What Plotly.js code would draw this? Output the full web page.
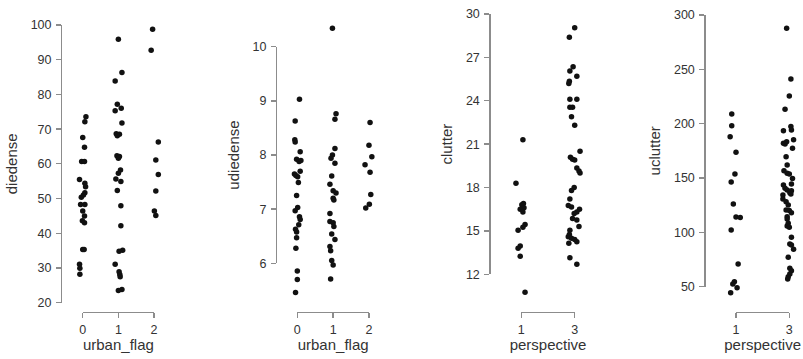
<!DOCTYPE html>
<html>
<head>
<meta charset="utf-8">
<script src="https://cdn.plot.ly/plotly-3.0.1.min.js"></script>
<style>html,body{margin:0;padding:0;background:#fff;}#chart{width:803px;height:359px;}</style>
</head>
<body>
<div id="chart"></div>
<script>
// ---------- DATA ----------
const urbanFlagLabels = ['0', '1', '2'];
const perspectiveLabels = ['1', '3'];

const diedense_0 = [73.6,72.1,67.6,64.8,60.7,60.7,55.5,54.4,53.4,51.7,51.0,50.4,48.3,48.3,46.4,45.0,43.6,43.0,35.3,35.3,31.1,29.9,28.2];
const diedenseJitter_0 = [0.09,0.06,0,0.05,-0.03,0.05,-0.09,0.06,0.08,0.06,0.02,-0.04,-0.06,0.06,0,0.05,-0.01,0.05,0,0.04,-0.09,-0.08,-0.08];
const diedense_1 = [95.9,86.3,83.9,77.2,76.0,75.3,71.8,68.7,68.5,68.1,62.3,62.1,61.6,58.2,57.3,55.6,54.9,52.3,47.9,42.2,35.1,34.8,31.1,28.9,28.1,27.5,23.8,23.5];
const diedenseJitter_1 = [0,0.1,-0.09,-0.03,0.08,-0.09,0.1,-0.06,0.03,-0.03,-0.04,0.03,0,0.06,0,-0.07,0.07,-0.03,0.07,0.07,0.12,0.02,-0.09,0.02,0.04,0.05,0.1,0];
const diedense_2 = [98.8,92.7,66.3,61.1,56.9,52.2,46.4,45.1];
const diedenseJitter_2 = [-0.04,-0.08,0.12,0.05,0.12,0.05,0.01,0.05];

const udiedense_0 = [9.03,8.63,8.28,8.24,8.06,7.92,7.88,7.90,7.70,7.65,7.62,7.60,7.49,7.25,7.03,6.97,6.86,6.81,6.71,6.63,6.58,6.47,6.28,5.86,5.70,5.46];
const udiedenseJitter_0 = [0.06,-0.06,-0.07,-0.06,0.08,-0.02,0.05,0.1,0.08,-0.08,-0.04,0.01,0.03,-0.02,0.01,-0.06,0.06,0.08,0.04,-0.05,-0.02,-0.02,-0.04,0,0,-0.05];
const udiedense_1 = [10.34,8.76,8.66,8.12,8.00,7.94,7.85,7.61,7.46,7.34,7.30,7.20,7.17,6.92,6.77,6.75,6.68,6.54,6.44,6.31,6.23,6.05,5.97,5.71];
const udiedenseJitter_1 = [-0.02,0.08,0.05,0.05,-0.02,-0.06,0.05,-0.04,-0.09,0,0.08,0,0.02,-0.09,-0.09,0,0.02,-0.04,0.05,-0.09,-0.07,-0.04,0,-0.07];
const udiedense_2 = [8.60,8.18,7.97,7.82,7.68,7.27,7.09,7.02];
const udiedenseJitter_2 = [0.03,0,0.08,-0.11,0.03,0.05,0.01,-0.09];

const clutter_1 = [21.3,18.3,16.9,16.8,16.6,16.5,16.3,15.45,15.25,15.05,13.95,13.8,13.25,10.75];
const clutterJitter_1 = [0.03,-0.1,0.04,0.01,0.05,-0.02,0.03,0.07,0.03,-0.06,-0.02,-0.06,-0.02,0.07];
const clutter_3 = [29.05,28.4,26.35,26.05,25.7,25.35,25.2,24.1,24.1,23.55,23.55,22.9,22.3,20.5,20.1,19.95,19.9,19.35,19.15,19.0,18.0,17.8,17.2,16.75,16.65,16.5,16.3,16.2,15.85,15.75,15.3,15.05,14.75,14.6,14.5,14.4,14.25,14.15,13.15,12.7];
const clutterJitter_3 = [0,-0.1,-0.03,-0.09,0.04,-0.1,-0.11,-0.09,0.04,-0.09,-0.04,-0.06,0,0.1,-0.08,-0.04,0,0.04,0.08,0.1,-0.01,-0.06,-0.09,-0.12,-0.06,0.09,0.04,-0.01,-0.04,0.04,0.08,-0.09,-0.1,-0.12,-0.06,0,0.04,-0.11,-0.09,0.04];

const uclutter_1 = [208.9,198,188,173.7,153.7,146.3,126.1,114.2,113.7,102.2,70.9,54.6,52.5,49.1,44.5];
const uclutterJitter_1 = [-0.08,-0.08,-0.11,0,-0.02,-0.09,-0.05,0,0.08,-0.09,0.04,-0.03,-0.06,0.02,-0.1];
const uclutter_3 = [287.7,241.1,225.5,213.2,197.5,194.2,193.5,185.3,183.4,182,181.2,177.3,169.6,162,156.7,154.4,153.7,149.5,144.5,143.6,140.5,139,138.3,136.5,135.3,134.4,130.7,128.2,125.2,120.6,120.0,118.1,114.4,112.2,108.3,105.9,104.7,95.5,89.3,88.4,84.4,77.0,66.9,64.7,61.7,59.2,57.1];
const uclutterJitter_3 = [-0.05,0.03,0,-0.08,0.03,0.04,-0.11,0.08,-0.05,-0.11,-0.08,0.06,-0.06,-0.04,-0.1,-0.04,0,0.06,0.04,-0.11,-0.08,-0.04,0.04,0.01,0.03,-0.12,-0.12,-0.06,-0.02,-0.06,0,0.04,-0.04,-0.04,-0.02,-0.04,0,0.04,0.01,0.04,0.08,-0.02,0.01,0.04,0.01,-0.02,-0.03];

// ---------- LAYOUT GEOMETRY ----------
const W = 803, H = 359;
const areaTop = 14.5, areaBot = 305.8;   // data area (pixels)
const xLineY = 311.7;                    // x spine position (pixels)

const panels = [
  { groups: [diedense_0, diedense_1, diedense_2], jit: [diedenseJitter_0, diedenseJitter_1, diedenseJitter_2],
    xLabels: urbanFlagLabels, xTitle: 'urban_flag', yTitle: 'diedense',
    pxL: 64.9, pxR: 171.85, xr: [-0.5, 2.5], yr: [19.11, 103.02], yTicks: [20,30,40,50,60,70,80,90,100], yLineX: 61 },
  { groups: [udiedense_0, udiedense_1, udiedense_2], jit: [udiedenseJitter_0, udiedenseJitter_1, udiedenseJitter_2],
    xLabels: urbanFlagLabels, xTitle: 'urban_flag', yTitle: 'udiedense',
    pxL: 279.4, pxR: 386.9, xr: [-0.5, 2.5], yr: [5.215, 10.595], yTicks: [6,7,8,9,10], yLineX: 276 },
  { groups: [clutter_1, clutter_3], jit: [clutterJitter_1, clutterJitter_3],
    xLabels: perspectiveLabels, xTitle: 'perspective', yTitle: 'clutter',
    pxL: 494.6, pxR: 601.4, xr: [-0.5, 1.5], yr: [9.82, 29.965], yTicks: [12,15,18,21,24,27,30], yLineX: 489.3 },
  { groups: [uclutter_1, uclutter_3], jit: [uclutterJitter_1, uclutterJitter_3],
    xLabels: perspectiveLabels, xTitle: 'perspective', yTitle: 'uclutter',
    pxL: 709.35, pxR: 803, xr: [-0.5, 1.257], yr: [32.42, 300.46], yTicks: [50,100,150,200,250,300], yLineX: 704.3 }
];

const textColor = '#333333';
const spineColor = '#8c8c8c';
const font = { family: 'Liberation Sans, Arial, sans-serif', size: 12.5, color: textColor };
const titleFont = { family: 'Liberation Sans, Arial, sans-serif', size: 15, color: textColor };

const traces = [];
const layout = {
  width: W, height: H,
  margin: { l: 0, r: 0, t: 0, b: 0, pad: 0 },
  paper_bgcolor: '#ffffff', plot_bgcolor: 'rgba(0,0,0,0)',
  showlegend: false, font: font
};

const yDom = [1 - areaBot / H, 1 - areaTop / H];

panels.forEach((p, k) => {
  const i = k + 1, d = k + 5;
  const sx = i === 1 ? '' : String(i);
  const xs = [], ys = [];
  p.groups.forEach((g, gi) => g.forEach((v, j) => { xs.push(gi + p.jit[gi][j]); ys.push(v); }));
  traces.push({
    type: 'scatter', mode: 'markers', x: xs, y: ys,
    xaxis: 'x' + sx, yaxis: 'y' + sx, cliponaxis: false, hoverinfo: 'skip',
    marker: { color: '#111111', size: 5.5, line: { width: 0 } }
  });
  // empty trace to realise the display axes
  traces.push({ type: 'scatter', mode: 'markers', x: [], y: [], xaxis: 'x' + d, yaxis: 'y' + d, hoverinfo: 'skip' });

  const xDom = [p.pxL / W, p.pxR / W];
  layout['xaxis' + sx] = { domain: xDom, range: p.xr, visible: false, fixedrange: true };
  layout['yaxis' + sx] = { domain: yDom, range: p.yr, visible: false, fixedrange: true };

  // trimmed display axes
  const nCat = p.xLabels.length;
  const pxOf = v => p.pxL + (v - p.xr[0]) / (p.xr[1] - p.xr[0]) * (p.pxR - p.pxL);
  const pyOf = v => areaTop + (p.yr[1] - v) / (p.yr[1] - p.yr[0]) * (areaBot - areaTop);
  const yLo = p.yTicks[0], yHi = p.yTicks[p.yTicks.length - 1];

  layout['xaxis' + d] = {
    domain: [pxOf(0) / W, pxOf(nCat - 1) / W], range: [0, nCat - 1],
    anchor: 'free', position: 1 - xLineY / H,
    tickvals: p.xLabels.map((_, j) => j), ticktext: p.xLabels,
    showline: true, linecolor: spineColor, linewidth: 1.3,
    ticks: 'outside', ticklen: 4.5, tickwidth: 1.3, tickcolor: spineColor,
    showgrid: false, zeroline: false, tickfont: font, ticklabelstandoff: 1,
    title: { text: p.xTitle, font: titleFont, standoff: 2 }, fixedrange: true
  };
  layout['yaxis' + d] = {
    domain: [1 - pyOf(yLo) / H, 1 - pyOf(yHi) / H], range: [yLo, yHi],
    anchor: 'free', position: p.yLineX / W, side: 'left',
    tickvals: p.yTicks, ticktext: p.yTicks.map(String),
    showline: true, linecolor: spineColor, linewidth: 1.3,
    ticks: 'outside', ticklen: 5, tickwidth: 1.3, tickcolor: spineColor,
    showgrid: false, zeroline: false, tickfont: font, ticklabelstandoff: 2,
    title: { text: p.yTitle, font: titleFont, standoff: 8 }, fixedrange: true
  };
});

Plotly.newPlot('chart', traces, layout, { staticPlot: true, displayModeBar: false });
</script>
</body>
</html>
